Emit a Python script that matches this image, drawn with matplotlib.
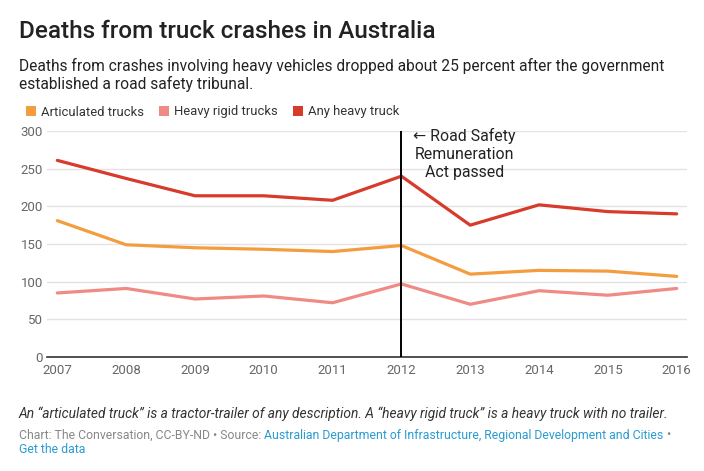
import matplotlib
matplotlib.use("Agg")
import matplotlib.pyplot as plt
from matplotlib.patches import Patch

plt.rcParams['font.family'] = ['Roboto', 'DejaVu Sans']

# Data
years = [2007, 2008, 2009, 2010, 2011, 2012, 2013, 2014, 2015, 2016]
articulated = [181, 149, 145, 143, 140, 148, 110, 115, 114, 107]
heavy_rigid = [85, 91, 77, 81, 72, 97, 70, 88, 82, 91]
any_heavy = [261, 237, 214, 214, 208, 240, 175, 202, 193, 190]
series_names = ['Articulated trucks', 'Heavy rigid trucks', 'Any heavy truck']
colors = ['#f49d3f', '#f08a85', '#d63b2c']
yticks = [0, 50, 100, 150, 200, 250, 300]
note_lines = ['\u2190 Road Safety', 'Remuneration', 'Act passed']

W, H = 704, 471
fig = plt.figure(figsize=(W / 100, H / 100), dpi=100)
ax = fig.add_axes([47 / W, 1 - 357 / H, (687 - 47) / W, (357 - 131) / H])

for vals, c in zip([articulated, heavy_rigid, any_heavy], colors):
    ax.plot(years, vals, color=c, lw=2.3, solid_capstyle='round', zorder=3)

# Act passed marker
ax.axvline(2012, color='black', lw=1.4, zorder=4)
for i, line in enumerate(note_lines):
    ax.text(2012.92, 286.5 - i * 24, line, ha='center', va='baseline',
            fontsize=11.4, color='#222222', zorder=5)

ax.set_xlim(2006.85, 2016.15)
ax.set_ylim(0, 300)
ax.set_yticks(yticks)
ax.set_xticks(years)
ax.grid(axis='y', color='#e3e3e3', lw=1)
ax.set_axisbelow(True)
for s in ['top', 'right', 'left']:
    ax.spines[s].set_visible(False)
ax.spines['bottom'].set_color('#333333')
ax.spines['bottom'].set_linewidth(1.2)
ax.tick_params(length=0, labelsize=9.5, colors='#666666')
ax.tick_params(axis='x', pad=5)
ax.tick_params(axis='y', pad=3)

# Titles
fig.text(19 / W, 1 - 37.5 / H, 'Deaths from truck crashes in Australia', fontsize=17.5,
         fontweight='medium', color='#222222', va='baseline')
fig.text(19 / W, 1 - 70.8 / H,
         'Deaths from crashes involving heavy vehicles dropped about 25 percent after the government',
         fontsize=11.2, color='#222222', va='baseline')
fig.text(19 / W, 1 - 89.2 / H, 'established a road safety tribunal.',
         fontsize=11.2, color='#222222', va='baseline')

# Legend
handles = [Patch(facecolor=c, edgecolor='none') for c in colors]
fig.legend(handles, series_names, loc='center left', bbox_to_anchor=(14 / W, 1 - 112 / H),
           ncol=3, frameon=False, fontsize=9.4, handlelength=0.8, handleheight=0.8,
           handletextpad=0.4, columnspacing=1.1, labelcolor='#333333')

# Footer
fig.text(19 / W, 1 - 418 / H,
         'An \u201carticulated truck\u201d is a tractor-trailer of any description. '
         'A \u201cheavy rigid truck\u201d is a heavy truck with no trailer.',
         fontsize=9.95, style='italic', color='#333333', va='baseline')

fig.canvas.draw()
r = fig.canvas.get_renderer()
t1 = fig.text(19 / W, 1 - 438.5 / H, 'Chart: The Conversation, CC-BY-ND \u2022 Source: ',
              fontsize=8.8, color='#888888', va='baseline')
bb = t1.get_window_extent(r)
t2 = fig.text(bb.x1 / W, 1 - 438.5 / H, 'Australian Department of Infrastructure, Regional Development and Cities',
              fontsize=8.8, color='#2a9bd0', va='baseline')
bb2 = t2.get_window_extent(r)
fig.text(bb2.x1 / W, 1 - 438.5 / H, ' \u2022', fontsize=8.8, color='#888888', va='baseline')
fig.text(19 / W, 1 - 453 / H, 'Get the data', fontsize=8.8, color='#2a9bd0', va='baseline')

fig.savefig('out.png', dpi=100)
